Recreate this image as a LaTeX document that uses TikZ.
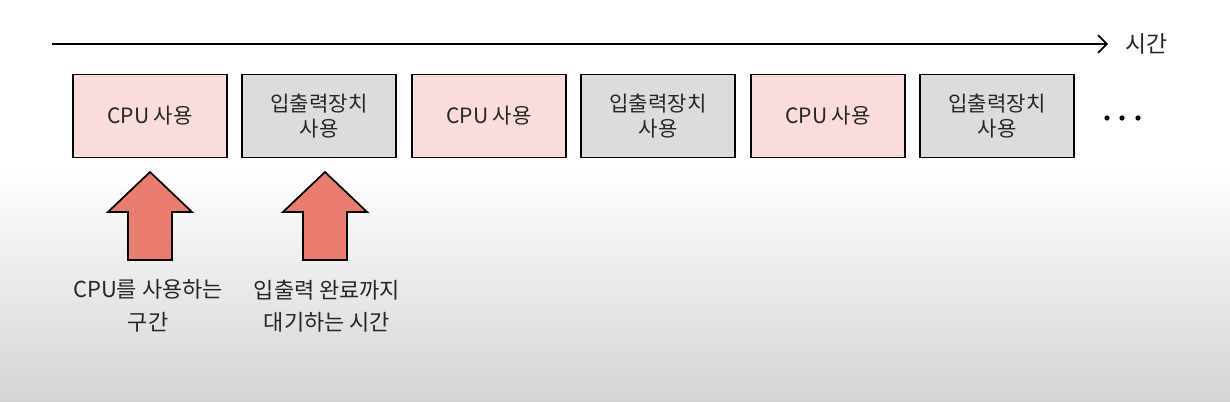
\documentclass[tikz,border=0pt]{standalone}
\usepackage{fontspec}
\setmainfont{Noto Sans CJK KR}
\usetikzlibrary{arrows.meta}
\definecolor{cpupink}{RGB}{250,220,220}
\definecolor{iogray}{RGB}{220,220,220}
\definecolor{arrowred}{RGB}{234,124,112}
\definecolor{bggray}{RGB}{212,212,212}
\begin{document}
\begin{tikzpicture}[x=0.02cm,y=-0.02cm,>={Straight Barb[length=5pt,width=10pt]},
	slot/.style={draw=black,line width=1pt,minimum width=3.08cm,minimum height=1.66cm,
		align=center,font=\fontsize{12}{14}\selectfont,text=black!85},
	cpuslot/.style={slot,fill=cpupink},
	ioslot/.style={slot,fill=iogray},
	uparrow/.style={draw=black,line width=1pt,fill=arrowred,line join=miter},
	note/.style={align=center,font=\fontsize{12.5}{18.5}\selectfont,text=black!85}]
	\useasboundingbox (0,0) rectangle (1230,402);
	\fill[white] (0,0) rectangle (1230,171);
	\shade[top color=white,bottom color=bggray] (0,170) rectangle (1230,402);
	\coordinate (t0) at (52,44);
	\coordinate (t1) at (1108,44);
	\draw[->,line width=1pt] (t0) -- (t1)
	node[right=6pt,font=\fontsize{13}{15}\selectfont,text=black!85] (time) {시간};
	\foreach \i/\x in {1/150,3/489,5/828}
	\node[cpuslot] (b\i) at (\x,116) {CPU 사용};
	\foreach \i/\x in {2/319,4/658,6/997}
	\node[ioslot] (b\i) at (\x,116) {입출력장치\\사용};
	\foreach \x in {1107,1122,1138}
	\fill (\x,118) circle (2.6);
	\foreach \x in {150,325}
	\draw[uparrow] (\x,172) -- ++(42,40) -- ++(-20,0) -- ++(0,48)
	-- ++(-44,0) -- ++(0,-48) -- ++(-20,0) -- cycle;
	\node[note] (n1) at (148,306) {CPU를 사용하는\\구간};
	\node[note] (n2) at (327,306) {입출력 완료까지\\대기하는 시간};
\end{tikzpicture}
\end{document}
